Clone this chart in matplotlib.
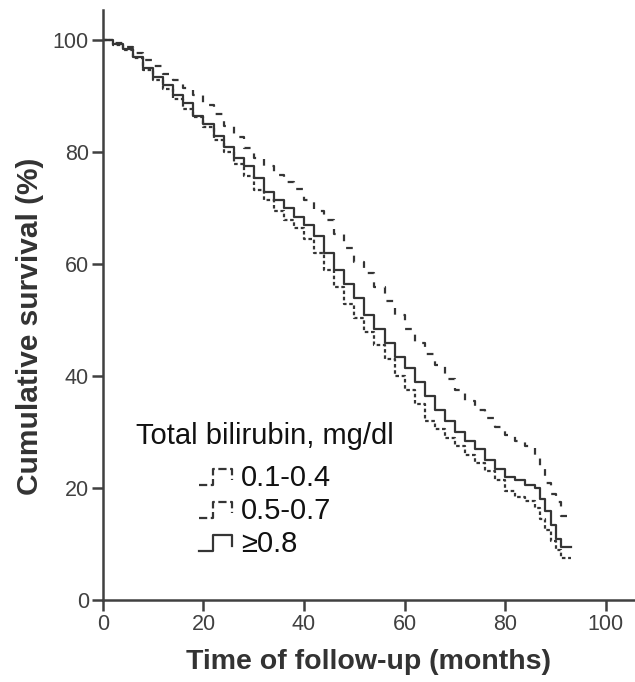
import matplotlib
matplotlib.use("Agg")
import matplotlib.pyplot as plt
from matplotlib.lines import Line2D
from matplotlib.legend_handler import HandlerBase

plt.rcParams['font.family'] = ['Liberation Sans', 'DejaVu Sans']

# follow-up time (months) where the survival estimates were read
months = [0, 2, 4, 6, 8, 10, 12, 14, 16, 18, 20, 22, 24, 26, 28, 30, 32, 34, 36, 38,
          40, 42, 44, 46, 48, 50, 52, 54, 56, 58, 60, 62, 64, 66, 68, 70, 72, 74, 76, 78,
          80, 82, 84, 86, 87, 88, 89, 90, 91, 93]

# cumulative survival (%) per total bilirubin group
surv_low = [100, 99.2, 98.3, 96.8, 94.8, 93, 91.3, 89.5, 87.8, 86.3, 84.5, 82.3, 80, 78,
            75.8, 73.3, 71.5, 69.5, 68, 66.5, 64.5, 62, 59, 56, 53, 50.5, 48, 45.5, 43, 40,
            37.5, 35, 32, 30.5, 29, 27.5, 26, 24.5, 23, 21.5, 19.5, 18.5, 17.8, 16.5, 14.5,
            12.5, 10.5, 9, 7.5, 7.5]
surv_mid = [100, 99.5, 98.8, 97.8, 96.5, 95.5, 94, 93, 91.5, 90.3, 88.5, 86.8, 84.8, 82.8,
            80.8, 79, 77.5, 76, 74.8, 73.5, 71.5, 69.5, 68, 65.5, 63, 60.5, 58.5, 56, 53.5,
            51, 48.5, 46, 44, 42, 39.5, 37.5, 35.5, 34, 32.5, 31, 29.5, 28.5, 27.5, 26, 24,
            21, 19, 17.5, 15, 15]
surv_high = [100, 99.3, 98.5, 97, 95, 93.5, 92, 90.3, 88.8, 86.5, 85, 83, 81, 79, 77.5,
             75.5, 73, 71.5, 70, 68.5, 67, 65, 62, 59, 56.5, 54, 51, 48.5, 46, 43.5, 41.5,
             39, 36.5, 34, 32, 30, 28.5, 27, 25, 23.5, 22, 21.5, 20.5, 20, 18, 16, 13.5, 11,
             9.5, 9.5]

labels = ['0.1-0.4', '0.5-0.7', '\u22650.8']
line_col = '#353535'
axis_col = '#404040'


class StepHandler(HandlerBase):
    # little step-shaped legend key like in the SPSS output
    def create_artists(self, legend, orig_handle, xdescent, ydescent,
                       width, height, fontsize, trans):
        xs = [-xdescent + f * width for f in (0, 0.42, 0.42, 0.95, 0.95)]
        ys = [-ydescent + f * height for f in (0.05, 0.05, 0.85, 0.85, 0.3)]
        ln = Line2D(xs, ys, color=orig_handle.get_color(),
                    linewidth=orig_handle.get_linewidth(),
                    linestyle=orig_handle.get_linestyle())
        ln.set_transform(trans)
        return [ln]


fig = plt.figure(figsize=(6.35, 6.82), dpi=100)
ax = fig.add_axes([0.162, 0.12, 0.838, 0.865])

l1, = ax.plot(months, surv_low, drawstyle='steps-post', color=line_col, lw=1.6,
              dashes=(1.6, 1.2), label=labels[0])
l2, = ax.plot(months, surv_mid, drawstyle='steps-post', color=line_col, lw=1.6,
              dashes=(3, 4), label=labels[1])
l3, = ax.plot(months, surv_high, drawstyle='steps-post', color=line_col, lw=1.6,
              label=labels[2])

ax.set_xlim(0, 105.8)
ax.set_ylim(0, 105.4)
ax.set_xticks([0, 20, 40, 60, 80, 100])
ax.set_yticks([0, 20, 40, 60, 80, 100])

for s in ['top', 'right']:
    ax.spines[s].set_visible(False)
for s in ['left', 'bottom']:
    ax.spines[s].set_linewidth(1.8)
    ax.spines[s].set_color(axis_col)
ax.tick_params(direction='out', length=8, width=1.8, color=axis_col,
               labelsize=15.5, labelcolor=axis_col, pad=2)

ax.set_xlabel('Time of follow-up (months)', fontsize=20.5, fontweight='bold',
              color='#333333', labelpad=10)
ax.set_ylabel('Cumulative survival (%)', fontsize=21.5, fontweight='bold',
              color='#333333')
ax.yaxis.set_label_coords(-0.11, 0.465)

leg = ax.legend(handles=[l1, l2, l3], loc='upper left',
                bbox_to_anchor=(136 / 635, 1 - 422 / 682), bbox_transform=fig.transFigure,
                frameon=False, title='Total bilirubin, mg/dl',
                fontsize=21, title_fontsize=21, handlelength=1.2, handletextpad=0.24,
                labelspacing=0.18, borderpad=0, borderaxespad=0,
                handler_map={Line2D: StepHandler()})
leg._legend_box.sep = 10
for t in leg.get_texts():
    t.set_color('#111111')
leg.get_title().set_color('#111111')

fig.savefig('out.png', dpi=100)
